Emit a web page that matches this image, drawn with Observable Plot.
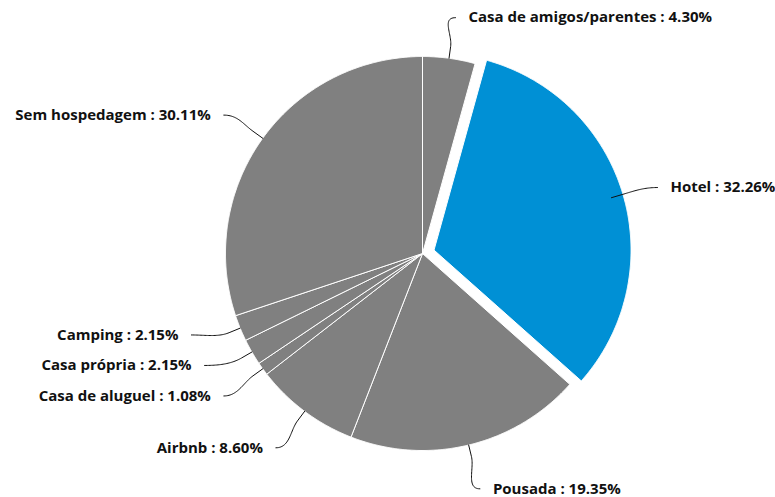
<!DOCTYPE html>
<html><head><meta charset="utf-8">
<script src="https://cdn.jsdelivr.net/npm/d3@7"></script>
<script src="https://cdn.jsdelivr.net/npm/@observablehq/plot@0.6"></script>
<style>body{margin:0;background:#fff}</style>
</head><body><div id="chart"></div>
<script>
const categories = ["Casa de amigos/parentes","Hotel","Pousada","Airbnb","Casa de aluguel","Casa própria","Camping","Sem hospedagem"];
const values = [4.30, 32.26, 19.35, 8.60, 1.08, 2.15, 2.15, 30.11];
const highlighted = ["Hotel"];

const W = 775, H = 497, cx = 422, cy = 253, r = 197, sliceOffset = 12;
const grayColor = "#808080", blueColor = "#0090d5";

const data = categories.map((c, i) => ({category: c, value: values[i]}));
const arcs = d3.pie().sort(null).value(d => d.value)(data);
const pt = (a, rad, ox = 0, oy = 0) => [cx + ox + rad * Math.sin(a), cy + oy - rad * Math.cos(a)];

const grayPts = [], bluePts = [];
arcs.forEach(arc => {
  const hi = highlighted.includes(arc.data.category);
  const mid = (arc.startAngle + arc.endAngle) / 2;
  const ox = hi ? sliceOffset * Math.sin(mid) : 0, oy = hi ? -sliceOffset * Math.cos(mid) : 0;
  const target = hi ? bluePts : grayPts;
  const push = ([x, y]) => target.push({category: arc.data.category, x, y});
  push([cx + ox, cy + oy]);
  const n = Math.max(2, Math.ceil((arc.endAngle - arc.startAngle) / 0.005));
  for (let k = 0; k <= n; k++) push(pt(arc.startAngle + (arc.endAngle - arc.startAngle) * k / n, r, ox, oy));
  push([cx + ox, cy + oy]);
});

// label layout
const Rx = 245, Ry = 240, gap = 30.5;
const labels = arcs.map(arc => {
  const mid = (arc.startAngle + arc.endAngle) / 2;
  const side = Math.sin(mid) >= 0 ? 1 : -1;
  const ny = cy + 2 - Ry * Math.cos(mid);
  return {category: arc.data.category, value: arc.data.value, mid, side, ny, y: ny};
});
for (const side of [1, -1]) {
  const g = labels.filter(l => l.side === side).sort((a, b) => a.y - b.y);
  for (let i = g.length - 2; i >= 0; i--) g[i].y = Math.min(g[i].y, g[i + 1].y - gap);
  for (let i = 1; i < g.length; i++) g[i].y = Math.max(g[i].y, g[i - 1].y + gap);
}
labels.forEach(l => {
  const moved = Math.abs(l.y - l.ny) > 0.5;
  l.x = moved ? cx + l.side * Math.sqrt(Math.max(0, Rx * Rx - (l.y - cy) ** 2)) : cx + Rx * Math.sin(l.mid);
  l.tx = l.x + l.side * 13;
  l.text = `${l.category} : ${l.value.toFixed(2)}%`;
});

const connPts = [];
labels.forEach(l => {
  const E = pt(l.mid, r), B = pt(l.mid, r + 12);
  const S = [l.x, l.y], C1 = [l.x - l.side * 14, l.y], C2 = [2 * B[0] - E[0], 2 * B[1] - E[1]];
  const N = 30;
  for (let k = 0; k <= N; k++) {
    const t = k / N, u = 1 - t;
    const x = u*u*u*S[0] + 3*u*u*t*C1[0] + 3*u*t*t*C2[0] + t*t*t*B[0];
    const y = u*u*u*S[1] + 3*u*u*t*C1[1] + 3*u*t*t*C2[1] + t*t*t*B[1];
    connPts.push({category: l.category, x, y});
  }
  connPts.push({category: l.category, x: E[0], y: E[1]});
});

const font = {fontFamily: "'Open Sans', sans-serif", fontSize: 15, fontWeight: "bold", fill: "#111"};

const chart = Plot.plot({
  width: W, height: H, margin: 0,
  style: {background: "#fff"},
  x: {domain: [0, W], axis: null},
  y: {domain: [0, H], range: [0, H], axis: null},
  marks: [
    Plot.line(grayPts, {x: "x", y: "y", z: "category", fill: grayColor, stroke: "#fff", strokeWidth: 1, strokeLinejoin: "round"}),
    Plot.line(bluePts, {x: "x", y: "y", z: "category", fill: blueColor, stroke: "#fff", strokeWidth: 1, strokeLinejoin: "round"}),
    Plot.line(connPts, {x: "x", y: "y", z: "category", stroke: "#111", strokeWidth: 1}),
    Plot.text(labels.filter(l => l.side > 0), {x: "tx", y: "y", text: "text", textAnchor: "start", ...font}),
    Plot.text(labels.filter(l => l.side < 0), {x: "tx", y: "y", text: "text", textAnchor: "end", ...font})
  ]
});
document.getElementById("chart").appendChild(chart);
</script>
</body></html>
